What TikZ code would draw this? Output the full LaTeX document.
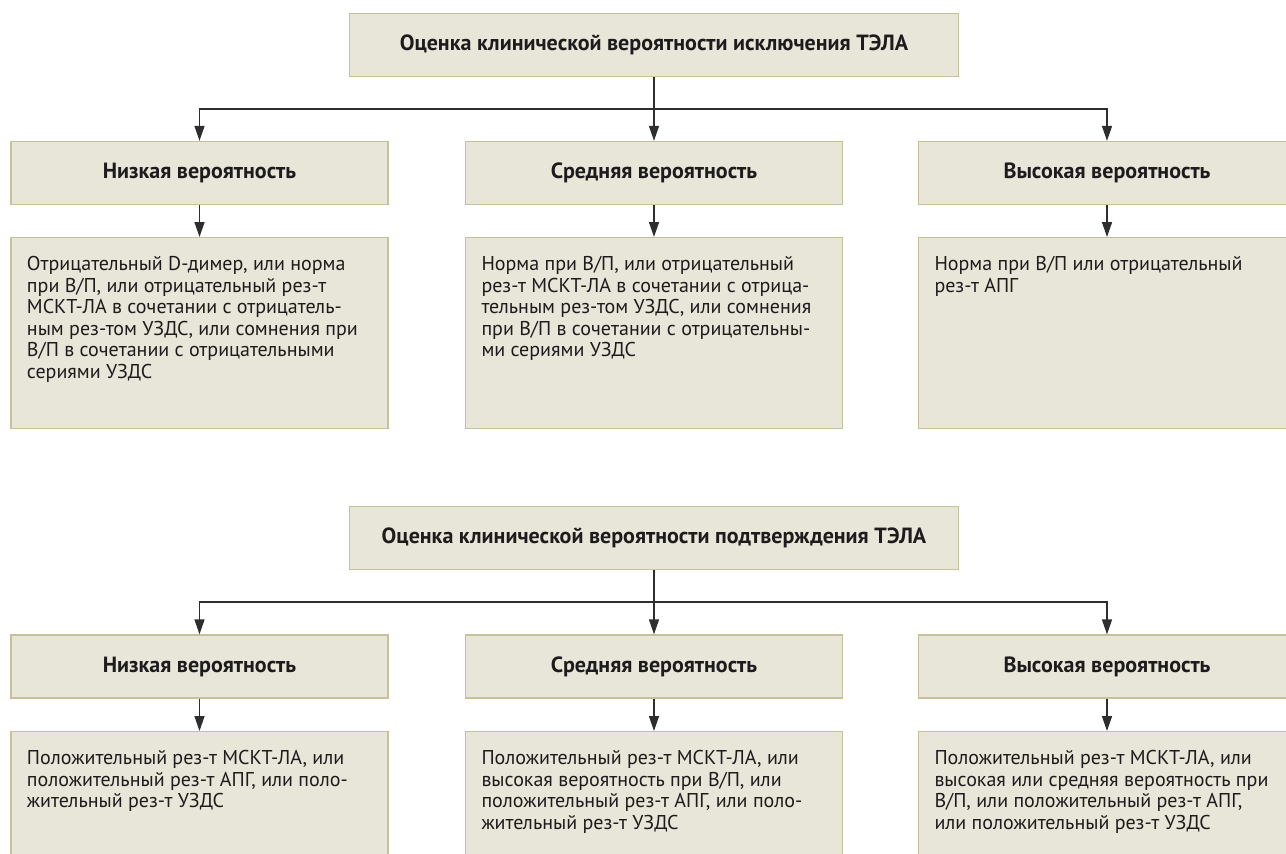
\documentclass[tikz,border=0pt]{standalone}
\usepackage{fontspec}
\setmainfont{PT Sans}
\usetikzlibrary{arrows.meta}
\definecolor{boxfill}{HTML}{E8E6D9}
\definecolor{boxline}{HTML}{C5C199}
\definecolor{inkcol}{HTML}{1E1B1C}
\definecolor{wirecol}{HTML}{2E2E2E}
\tikzstyle{head}=[draw=boxline, fill=boxfill, line width=1.3pt, minimum width=377pt, minimum height=63pt, inner sep=0pt, text=inkcol, font=\bfseries\fontsize{22}{24}\selectfont]
\tikzstyle{body}=[draw=boxline, fill=boxfill, line width=1.3pt, anchor=north, inner xsep=16pt, inner ysep=0pt, text=inkcol, font=\fontsize{20}{21.5}\selectfont]
\tikzstyle{wire}=[draw=wirecol, line width=1.4pt]
\tikzstyle{link}=[wire, -{Triangle[length=15pt,width=10pt]}]
\newcommand{\bodytext}[1]{\parbox[c][191pt][t]{345pt}{\rule{0pt}{33pt}#1}}

\begin{document}
\begin{tikzpicture}[x=1pt, y=-1pt]
    \useasboundingbox (0,0) rectangle (1286,854);

    % exclusion of PE
    \node[head, minimum width=609pt] (exclude) at (654,45) {Оценка клинической вероятности исключения ТЭЛА};
    \coordinate (excludefork) at (654,109);
    \foreach \x/\name/\txt in {
                            {199.5/exlow/Низкая вероятность},
                            {654/exmid/Средняя вероятность},
                            {1107/exhigh/Высокая вероятность}}
        \node[head] (\name) at (\x,173) {\txt};

    \node[body] (exlow-text) at (199.5,237) {\bodytext{Отрицательный D-димер, или норма\\
        при В/П, или отрицательный рез-т\\
        МСКТ-ЛА в сочетании с отрицатель-\\
        ным рез-том УЗДС, или сомнения при\\
        В/П в сочетании с отрицательными\\
        сериями УЗДС}};
    \node[body] (exmid-text) at (654,237) {\bodytext{Норма при В/П, или отрицательный\\
        рез-т МСКТ-ЛА в сочетании с отрица-\\
        тельным рез-том УЗДС, или сомнения\\
        при В/П в сочетании с отрицательны-\\
        ми сериями УЗДС}};
    \node[body] (exhigh-text) at (1107,237) {\bodytext{Норма при В/П или отрицательный\\
        рез-т АПГ}};

    % confirmation of PE
    \node[head, minimum width=609pt] (confirm) at (654,538) {Оценка клинической вероятности подтверждения ТЭЛА};
    \coordinate (confirmfork) at (654,602);
    \foreach \x/\name/\txt in {
                            {199.5/colow/Низкая вероятность},
                            {654/comid/Средняя вероятность},
                            {1107/cohigh/Высокая вероятность}}
        \node[head] (\name) at (\x,666.5) {\txt};

    \node[body] (colow-text) at (199.5,731) {\bodytext{Положительный рез-т МСКТ-ЛА, или\\
        положительный рез-т АПГ, или поло-\\
        жительный рез-т УЗДС}};
    \node[body] (comid-text) at (654,731) {\bodytext{Положительный рез-т МСКТ-ЛА, или\\
        высокая вероятность при В/П, или\\
        положительный рез-т АПГ, или поло-\\
        жительный рез-т УЗДС}};
    \node[body] (cohigh-text) at (1107,731) {\bodytext{Положительный рез-т МСКТ-ЛА, или\\
        высокая или средняя вероятность при\\
        В/П, или положительный рез-т АПГ,\\
        или положительный рез-т УЗДС}};

    % connect boxes
    \draw[wire] (exclude) -- (excludefork);
    \draw[wire] (confirm) -- (confirmfork);
    \foreach \fork/\name in {excludefork/exlow, excludefork/exmid, excludefork/exhigh,
                             confirmfork/colow, confirmfork/comid, confirmfork/cohigh}
    {
        \draw[link] (\fork) -| (\name);
        \draw[link] (\name) -- (\name-text);
    }

\end{tikzpicture}
\end{document}
